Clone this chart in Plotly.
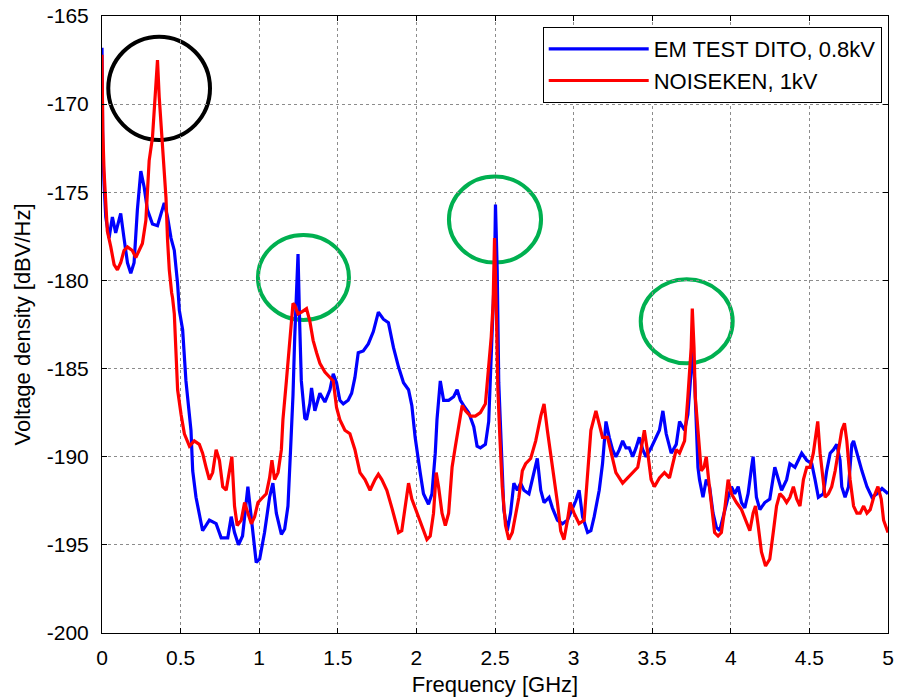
import plotly.graph_objects as go

# ---- data (frequency in GHz, voltage density in dBV/Hz) ----
blue_f = [0.000, 0.005, 0.013, 0.024, 0.045, 0.066, 0.087, 0.119, 0.140, 0.162, 0.183, 0.204, 0.225, 0.247,
          0.268, 0.289, 0.321, 0.353, 0.396, 0.417, 0.439, 0.460, 0.481, 0.492, 0.513, 0.534, 0.566, 0.577,
          0.598, 0.619, 0.640, 0.683, 0.726, 0.758, 0.800, 0.822, 0.843, 0.868, 0.894, 0.928, 0.950, 0.981,
          1.003, 1.034, 1.066, 1.087, 1.109, 1.141, 1.162, 1.183, 1.200, 1.215, 1.226, 1.236, 1.247, 1.257,
          1.268, 1.290, 1.301, 1.322, 1.333, 1.354, 1.386, 1.418, 1.450, 1.471, 1.492, 1.513, 1.535, 1.566,
          1.588, 1.609, 1.630, 1.662, 1.694, 1.726, 1.758, 1.790, 1.822, 1.854, 1.886, 1.918, 1.950, 1.971,
          1.992, 2.024, 2.045, 2.077, 2.099, 2.120, 2.131, 2.152, 2.173, 2.205, 2.237, 2.259, 2.280, 2.301,
          2.333, 2.365, 2.386, 2.407, 2.439, 2.460, 2.482, 2.497, 2.503, 2.514, 2.524, 2.546, 2.556, 2.578,
          2.599, 2.620, 2.642, 2.663, 2.684, 2.716, 2.748, 2.769, 2.791, 2.812, 2.844, 2.865, 2.897, 2.929,
          2.961, 2.993, 3.014, 3.035, 3.057, 3.089, 3.110, 3.131, 3.163, 3.184, 3.206, 3.227, 3.248, 3.269,
          3.291, 3.312, 3.333, 3.354, 3.376, 3.397, 3.418, 3.440, 3.461, 3.493, 3.525, 3.546, 3.568, 3.589,
          3.621, 3.653, 3.674, 3.706, 3.727, 3.748, 3.759, 3.770, 3.780, 3.791, 3.801, 3.823, 3.844, 3.865,
          3.887, 3.908, 3.929, 3.951, 3.983, 4.004, 4.025, 4.047, 4.068, 4.089, 4.110, 4.132, 4.142, 4.163,
          4.185, 4.216, 4.248, 4.280, 4.302, 4.323, 4.355, 4.376, 4.408, 4.430, 4.451, 4.483, 4.515, 4.536,
          4.557, 4.589, 4.610, 4.632, 4.653, 4.674, 4.695, 4.706, 4.727, 4.749, 4.770, 4.781, 4.802, 4.834,
          4.866, 4.898, 4.930, 4.962, 5.000]
blue_v = [-166.8, -172.5, -174.5, -176.4, -177.6, -176.4, -177.3, -176.2, -177.6, -179.0, -179.6, -179.0, -176.0, -173.8,
          -174.7, -176.0, -176.8, -176.9, -175.6, -176.4, -177.6, -178.3, -180.2, -181.7, -182.8, -185.7, -188.5, -190.8,
          -192.3, -193.2, -194.2, -193.6, -193.8, -194.6, -194.6, -193.4, -194.3, -195.0, -194.5, -191.7, -193.6, -196.0,
          -195.8, -194.3, -192.3, -191.5, -193.2, -194.4, -194.1, -192.8, -189.5, -186.5, -183.2, -181.3, -178.5, -182.3,
          -185.7, -187.8, -187.9, -187.0, -186.1, -187.4, -186.4, -186.9, -186.2, -185.3, -185.8, -186.8, -187.0, -186.8,
          -186.4, -185.5, -184.1, -184.0, -183.6, -182.9, -181.8, -182.2, -182.4, -183.8, -184.9, -185.8, -186.2, -187.1,
          -188.9, -190.9, -192.1, -192.7, -192.1, -189.8, -187.9, -185.7, -186.8, -186.8, -186.6, -186.2, -186.8, -187.1,
          -187.5, -188.3, -189.4, -189.5, -189.3, -188.0, -183.2, -179.4, -175.7, -179.4, -185.8, -190.8, -193.0, -194.2,
          -193.2, -191.5, -191.9, -191.5, -191.9, -192.1, -190.9, -190.1, -191.9, -192.6, -192.3, -192.9, -193.6, -193.8,
          -193.6, -192.9, -192.5, -191.9, -193.4, -194.3, -194.2, -193.4, -191.9, -190.4, -188.0, -188.9, -189.6, -190.0,
          -189.6, -189.1, -189.5, -189.5, -190.0, -189.5, -188.9, -189.6, -190.0, -189.5, -188.9, -188.5, -187.4, -188.7,
          -189.8, -189.3, -188.0, -188.5, -187.6, -185.3, -183.8, -185.7, -188.5, -190.6, -191.3, -192.3, -191.3, -191.7,
          -193.2, -194.0, -194.2, -193.4, -192.3, -191.7, -192.1, -191.7, -192.6, -192.9, -192.1, -190.6, -190.0, -192.3,
          -193.0, -192.6, -192.4, -190.6, -191.3, -191.9, -191.3, -190.4, -190.6, -190.2, -189.8, -190.2, -190.4, -191.3,
          -192.3, -192.1, -190.8, -189.8, -189.6, -189.3, -190.2, -191.7, -192.3, -191.7, -189.3, -189.1, -189.8, -190.8,
          -191.7, -192.3, -192.1, -191.8, -192.1]

red_f = [0.000, 0.005, 0.013, 0.024, 0.034, 0.056, 0.077, 0.098, 0.119, 0.140, 0.162, 0.193, 0.215, 0.236,
         0.257, 0.279, 0.289, 0.300, 0.321, 0.332, 0.343, 0.353, 0.364, 0.375, 0.385, 0.396, 0.407, 0.417,
         0.428, 0.443, 0.449, 0.460, 0.471, 0.481, 0.503, 0.524, 0.556, 0.587, 0.619, 0.640, 0.662, 0.683,
         0.704, 0.726, 0.747, 0.768, 0.790, 0.811, 0.826, 0.843, 0.860, 0.886, 0.907, 0.928, 0.950, 0.971,
         0.992, 1.013, 1.045, 1.066, 1.081, 1.098, 1.120, 1.141, 1.151, 1.173, 1.194, 1.215, 1.226, 1.247,
         1.269, 1.290, 1.301, 1.322, 1.343, 1.365, 1.386, 1.418, 1.450, 1.471, 1.492, 1.513, 1.545, 1.577,
         1.609, 1.641, 1.673, 1.705, 1.737, 1.758, 1.780, 1.812, 1.844, 1.865, 1.886, 1.907, 1.928, 1.950,
         1.971, 2.003, 2.035, 2.067, 2.088, 2.109, 2.126, 2.141, 2.163, 2.184, 2.205, 2.227, 2.248, 2.269,
         2.291, 2.312, 2.344, 2.375, 2.407, 2.439, 2.460, 2.476, 2.488, 2.497, 2.510, 2.518, 2.531, 2.546,
         2.567, 2.588, 2.610, 2.631, 2.652, 2.674, 2.695, 2.727, 2.759, 2.791, 2.812, 2.833, 2.854, 2.876,
         2.897, 2.918, 2.939, 2.961, 2.978, 3.003, 3.035, 3.067, 3.089, 3.110, 3.142, 3.163, 3.184, 3.216,
         3.238, 3.269, 3.312, 3.344, 3.376, 3.408, 3.429, 3.450, 3.472, 3.493, 3.514, 3.546, 3.578, 3.610,
         3.631, 3.653, 3.674, 3.706, 3.727, 3.738, 3.748, 3.755, 3.766, 3.774, 3.787, 3.801, 3.812, 3.829,
         3.844, 3.859, 3.876, 3.897, 3.919, 3.940, 3.961, 3.983, 4.004, 4.036, 4.068, 4.100, 4.121, 4.142,
         4.157, 4.174, 4.195, 4.221, 4.248, 4.270, 4.291, 4.312, 4.334, 4.355, 4.376, 4.398, 4.419, 4.440,
         4.462, 4.483, 4.504, 4.525, 4.540, 4.553, 4.568, 4.583, 4.600, 4.621, 4.642, 4.664, 4.685, 4.706,
         4.723, 4.738, 4.759, 4.781, 4.802, 4.823, 4.845, 4.866, 4.887, 4.909, 4.936, 4.957, 4.972, 4.994,
         5.000]
red_v = [-167.2, -171.5, -173.8, -175.3, -177.2, -178.1, -179.1, -179.4, -179.0, -178.3, -178.1, -178.3, -178.7, -178.3,
         -177.9, -176.6, -174.7, -173.2, -171.9, -170.4, -169.4, -167.5, -169.6, -171.0, -171.9, -173.8, -175.3, -177.7,
         -179.4, -180.7, -181.0, -181.9, -183.8, -186.2, -187.6, -188.7, -189.4, -189.1, -189.3, -189.8, -190.6, -191.3,
         -190.9, -189.6, -190.2, -191.7, -191.9, -190.9, -190.0, -192.8, -193.9, -193.6, -192.6, -193.2, -193.8, -193.4,
         -192.6, -192.4, -192.1, -191.2, -190.2, -191.3, -190.9, -189.6, -187.9, -185.7, -183.4, -181.3, -181.4, -181.9,
         -181.8, -181.7, -181.6, -182.3, -183.4, -184.1, -184.7, -185.2, -185.5, -185.7, -187.2, -187.9, -188.5, -188.7,
         -189.6, -190.9, -191.3, -191.9, -191.3, -191.0, -191.3, -191.9, -192.9, -193.6, -194.3, -194.2, -193.0, -191.5,
         -192.4, -193.2, -193.9, -194.7, -194.5, -193.2, -190.9, -191.7, -193.2, -193.9, -193.2, -190.6, -189.4, -188.3,
         -187.1, -187.4, -187.7, -187.7, -187.5, -187.0, -185.1, -183.2, -181.3, -177.6, -182.3, -186.1, -188.9, -191.7,
         -193.9, -194.7, -194.3, -193.2, -192.3, -190.8, -190.4, -190.1, -189.1, -187.7, -187.0, -188.5, -189.8, -191.3,
         -192.6, -194.2, -194.7, -193.6, -192.6, -193.2, -193.8, -193.6, -190.8, -188.5, -187.4, -188.1, -188.9, -188.9,
         -189.8, -190.9, -191.5, -191.2, -190.9, -190.6, -189.6, -188.5, -189.8, -191.3, -191.7, -191.2, -190.9, -191.2,
         -190.4, -189.6, -189.8, -189.1, -186.6, -184.9, -183.8, -181.6, -183.8, -186.6, -188.1, -189.8, -190.8, -190.6,
         -190.0, -191.3, -192.8, -194.3, -194.5, -194.3, -193.0, -191.3, -192.1, -192.6, -193.0, -193.8, -194.2, -193.2,
         -192.8, -193.9, -195.4, -196.2, -195.8, -194.3, -192.8, -192.1, -192.3, -192.6, -192.3, -191.7, -192.4, -192.8,
         -191.3, -190.6, -190.6, -189.8, -188.9, -188.0, -189.8, -190.9, -192.3, -192.1, -191.7, -190.8, -189.6, -188.5,
         -188.1, -189.1, -191.3, -192.8, -193.2, -193.2, -192.8, -193.2, -193.0, -192.3, -191.7, -192.4, -193.6, -194.2,
         -194.3]

series_names = ["EM TEST DITO, 0.8kV", "NOISEKEN, 1kV"]

x_ticks = [0, 0.5, 1, 1.5, 2, 2.5, 3, 3.5, 4, 4.5, 5]
x_tick_labels = ["0", "0.5", "1", "1.5", "2", "2.5", "3", "3.5", "4", "4.5", "5"]
y_ticks = [-200, -195, -190, -185, -180, -175, -170, -165]
y_tick_labels = ["-200", "-195", "-190", "-185", "-180", "-175", "-170", "-165"]

# highlight ellipses: (f_min, f_max, v_min, v_max, colour)
highlights = [
    (0.040, 0.687, -172.03, -166.17, "#000000"),
    (0.992, 1.571, -182.24, -177.42, "#00B050"),
    (2.207, 2.793, -178.99, -174.11, "#00B050"),
    (3.427, 4.012, -184.70, -179.93, "#00B050"),
]

FONT = "Liberation Sans, Arial, sans-serif"

fig = go.Figure()
fig.add_trace(go.Scatter(x=blue_f, y=blue_v, mode="lines", name=series_names[0],
                         line=dict(color="#0000FF", width=3.2)))
fig.add_trace(go.Scatter(x=red_f, y=red_v, mode="lines", name=series_names[1],
                         line=dict(color="#FF0000", width=3.2)))

for x0, x1, y0, y1, col in highlights:
    fig.add_shape(type="circle", xref="x", yref="y", x0=x0, x1=x1, y0=y0, y1=y1,
                  line=dict(color=col, width=4), layer="below")

axis_common = dict(
    showline=True, linecolor="black", linewidth=1, mirror="ticks",
    ticks="inside", ticklen=5, tickcolor="black",
    showgrid=True, gridcolor="#8c8c8c", griddash="dot", gridwidth=1,
    zeroline=False, automargin=False,
    tickfont=dict(family=FONT, size=21, color="black"),
)

fig.update_xaxes(range=[0, 5], tickmode="array", tickvals=x_ticks, ticktext=x_tick_labels,
                 title=dict(text="Frequency [GHz]", font=dict(family=FONT, size=22, color="black"), standoff=8),
                 ticklabelstandoff=6, **axis_common)
fig.update_yaxes(range=[-200, -165], tickmode="array", tickvals=y_ticks, ticktext=y_tick_labels,
                 title=dict(text="Voltage density [dBV/Hz]", font=dict(family=FONT, size=22, color="black"), standoff=10),
                 ticklabelstandoff=8, **axis_common)

fig.update_layout(
    width=898, height=698,
    margin=dict(l=102, r=10, t=16, b=65),
    plot_bgcolor="white", paper_bgcolor="white",
    showlegend=True,
    legend=dict(x=0.992, y=0.982, xanchor="right", yanchor="top",
                bgcolor="white", bordercolor="black", borderwidth=1,
                font=dict(family=FONT, size=22, color="black"),
                itemwidth=100, tracegroupgap=0),
    font=dict(family=FONT),
)

fig.write_html("out.html")
